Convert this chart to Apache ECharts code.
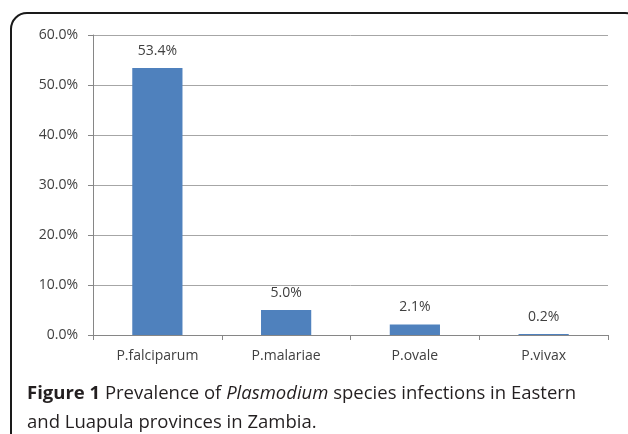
<!DOCTYPE html>
<html>
<head>
<meta charset="utf-8">
<script src="https://cdn.jsdelivr.net/npm/echarts@6/dist/echarts.min.js"></script>
<style>
  html, body { margin: 0; padding: 0; background: #fff; }
  #chart { width: 628px; height: 434px; }
</style>
</head>
<body>
<div id="chart"></div>
<script>
// species and prevalence (%)
let species = ['P.falciparum', 'P.malariae', 'P.ovale', 'P.vivax'];
let prevalence = [53.4, 5.0, 2.1, 0.2];
let yTicks = [0, 10, 20, 30, 40, 50, 60];

let chart = echarts.init(document.getElementById('chart'));
let labelColor = '#404040';
let fontFam = '"Open Sans", "DejaVu Sans", sans-serif';

let option = {
    animation: false,
    grid: { left: 93, right: 20, top: 35, bottom: 99 },
    xAxis: {
        type: 'category',
        data: species,
        axisLine: { lineStyle: { color: '#868686', width: 1 } },
        axisTick: { show: true, length: 5, interval: 0, lineStyle: { color: '#868686' } },
        axisLabel: { color: labelColor, fontSize: 14, fontFamily: fontFam, margin: 14 }
    },
    yAxis: {
        type: 'value',
        min: yTicks[0],
        max: yTicks[yTicks.length - 1],
        interval: 10,
        axisLine: { show: true, lineStyle: { color: '#868686', width: 1 } },
        axisTick: { show: true, length: 5, lineStyle: { color: '#868686' } },
        splitLine: { lineStyle: { color: '#a6a6a6', width: 1 } },
        axisLabel: {
            color: labelColor, fontSize: 14, fontFamily: fontFam, margin: 15,
            formatter: function (v) { return v.toFixed(1) + '%'; }
        }
    },
    series: [{
        type: 'bar',
        data: prevalence,
        barWidth: '39%',
        itemStyle: { color: '#4f81bd' },
        label: {
            show: true, position: 'top', distance: 10,
            color: labelColor, fontSize: 14, fontFamily: fontFam,
            formatter: function (p) { return p.value.toFixed(1) + '%'; }
        }
    }],
    graphic: [
        {
            type: 'rect',
            shape: { x: 11, y: 13, width: 630, height: 440, r: [16, 16, 0, 0] },
            style: { fill: null, stroke: '#1a1a1a', lineWidth: 2 },
            silent: true
        },
        {
            type: 'text', left: 27, top: 379,
            style: {
                text: '{b|Figure 1} Prevalence of {i|Plasmodium} species infections in Eastern\nand Luapula provinces in Zambia.',
                fontSize: 18.5, fontFamily: fontFam, fill: '#231f20', lineHeight: 29,
                rich: {
                    b: { fontWeight: 'bold', fontSize: 18.5, fontFamily: fontFam, fill: '#231f20' },
                    i: { fontStyle: 'italic', fontSize: 18.5, fontFamily: fontFam, fill: '#231f20' }
                }
            }
        }
    ]
};
chart.setOption(option);
</script>
</body>
</html>
